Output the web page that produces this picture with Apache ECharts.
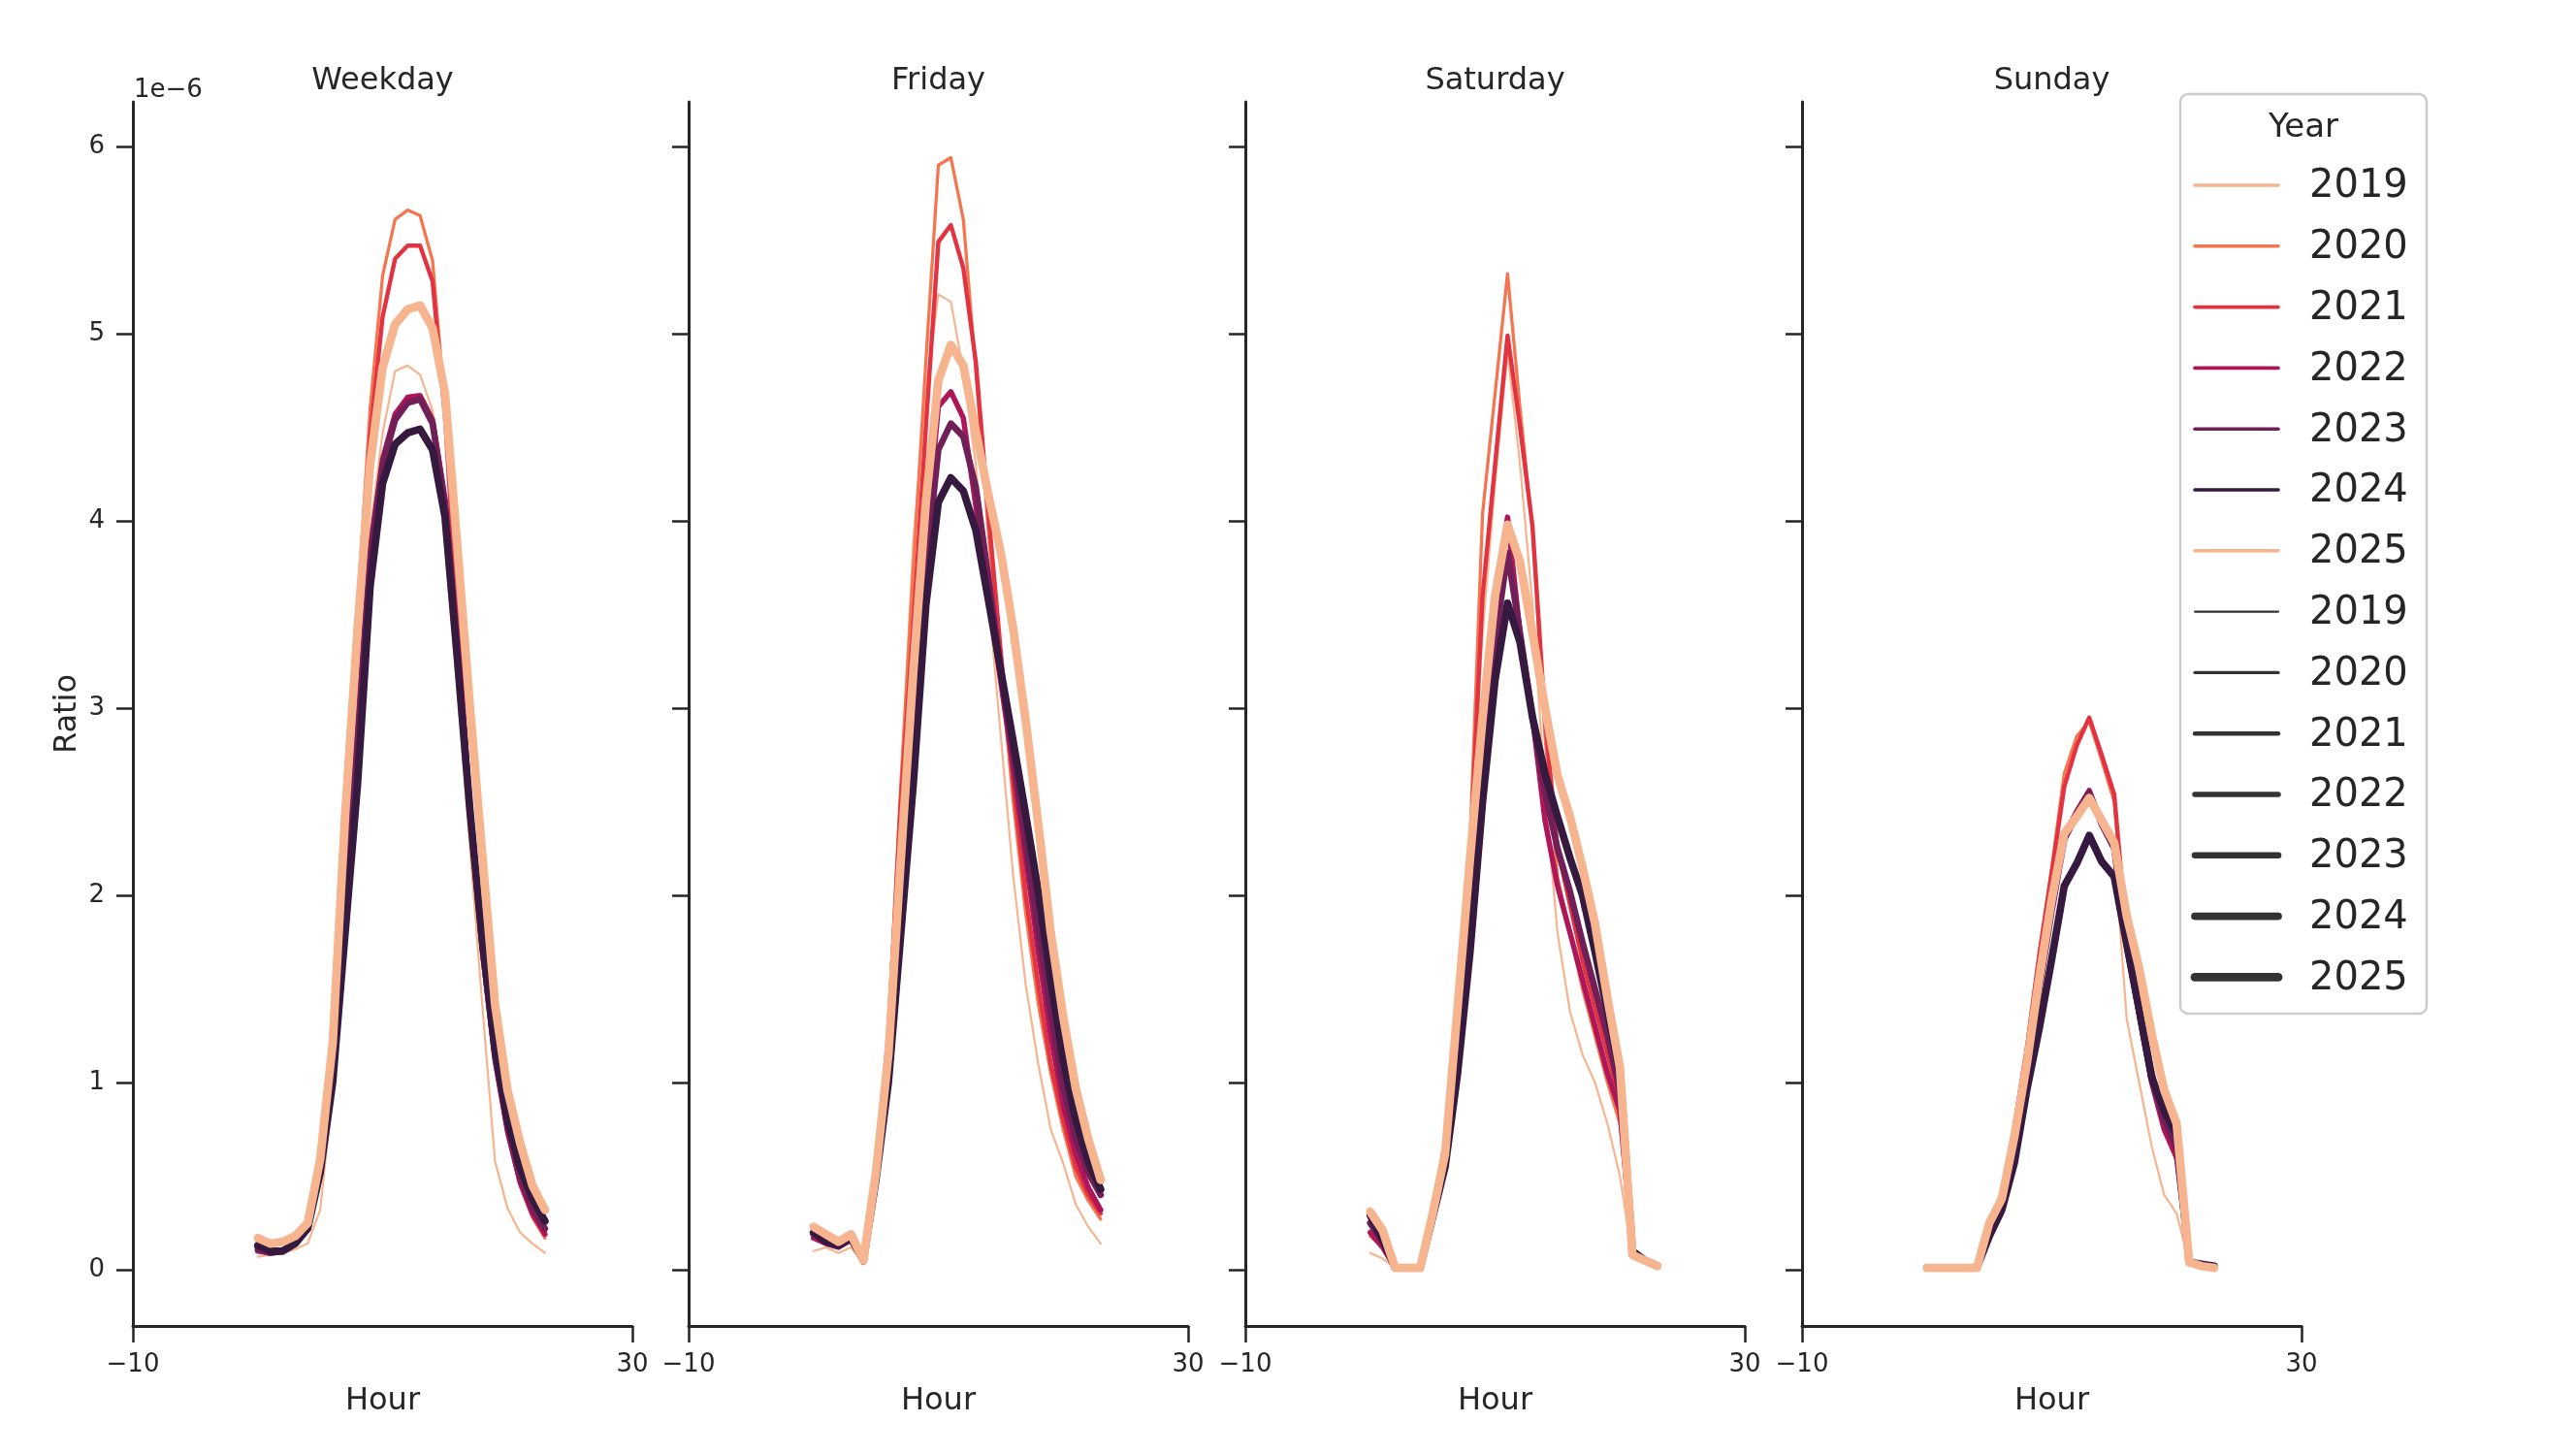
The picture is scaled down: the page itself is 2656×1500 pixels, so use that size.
<!DOCTYPE html>
<html>
<head>
<meta charset="utf-8">
<script src="https://cdn.jsdelivr.net/npm/echarts@6/dist/echarts.min.js"></script>
<style>
html,body{margin:0;padding:0;background:#ffffff;}
#chart{width:2656px;height:1500px;}
</style>
</head>
<body>
<div id="chart"></div>
<script>
// ---------------- data (ratio values, in units of 1e-6) ----------------
const SCALE = 1e-6;
const HOURS = [0,1,2,3,4,5,6,7,8,9,10,11,12,13,14,15,16,17,18,19,20,21,22,23];
const YEARS = ['2019','2020','2021','2022','2023','2024','2025'];
const PANELS = ['Weekday','Friday','Saturday','Sunday'];
const X_TICKS = [-10, 30];
const Y_TICKS = [0, 1, 2, 3, 4, 5, 6];

// rows: 2019 .. 2025, columns: hour 0 .. 23
const weekday = [
  [0.07,0.08,0.09,0.11,0.14,0.32,0.95,2.00,3.05,3.95,4.47,4.80,4.83,4.78,4.59,3.87,3.10,2.25,1.40,0.58,0.33,0.20,0.14,0.09],
  [0.11,0.10,0.11,0.15,0.24,0.55,1.20,2.40,3.55,4.60,5.31,5.61,5.66,5.63,5.39,4.60,3.50,2.50,1.70,1.10,0.72,0.45,0.28,0.17],
  [0.11,0.10,0.11,0.15,0.24,0.55,1.18,2.35,3.45,4.45,5.09,5.40,5.47,5.47,5.28,4.55,3.50,2.50,1.72,1.12,0.74,0.47,0.30,0.20],
  [0.10,0.09,0.10,0.14,0.23,0.52,1.05,2.00,2.90,3.85,4.33,4.57,4.66,4.67,4.54,4.10,3.30,2.45,1.70,1.12,0.74,0.47,0.30,0.19],
  [0.11,0.09,0.10,0.15,0.23,0.52,1.05,1.95,2.85,3.80,4.30,4.54,4.63,4.65,4.52,4.10,3.30,2.45,1.72,1.15,0.78,0.50,0.33,0.22],
  [0.13,0.10,0.10,0.14,0.22,0.52,1.00,1.80,2.60,3.65,4.20,4.41,4.47,4.49,4.38,4.02,3.25,2.45,1.75,1.18,0.80,0.55,0.38,0.26],
  [0.17,0.14,0.15,0.18,0.25,0.59,1.21,2.43,3.43,4.30,4.82,5.05,5.13,5.15,5.03,4.68,3.85,3.00,2.20,1.42,0.96,0.68,0.45,0.32]
];
const friday = [
  [0.10,0.12,0.09,0.12,0.04,0.45,1.20,2.60,3.90,4.70,5.21,5.17,4.80,4.30,3.60,2.85,2.10,1.52,1.10,0.75,0.57,0.35,0.23,0.14],
  [0.17,0.15,0.12,0.15,0.04,0.55,1.30,2.60,3.75,4.85,5.90,5.94,5.61,4.80,3.95,3.20,2.50,1.90,1.42,1.05,0.75,0.50,0.37,0.27],
  [0.18,0.15,0.13,0.16,0.04,0.52,1.25,2.50,3.45,4.50,5.49,5.58,5.35,4.85,4.05,3.30,2.60,2.00,1.52,1.10,0.80,0.55,0.40,0.30],
  [0.17,0.14,0.12,0.16,0.04,0.50,1.10,2.10,3.00,3.90,4.61,4.69,4.55,4.08,3.61,3.14,2.68,2.20,1.70,1.25,0.88,0.62,0.44,0.32],
  [0.19,0.15,0.13,0.17,0.05,0.50,1.08,2.05,2.90,3.75,4.38,4.52,4.45,4.18,3.70,3.20,2.75,2.28,1.82,1.38,0.98,0.70,0.52,0.40],
  [0.20,0.15,0.13,0.17,0.05,0.48,1.00,1.80,2.60,3.55,4.10,4.23,4.16,3.95,3.58,3.20,2.82,2.43,2.02,1.55,1.12,0.80,0.58,0.43],
  [0.23,0.19,0.15,0.19,0.05,0.52,1.15,2.20,3.20,4.10,4.75,4.94,4.83,4.48,4.14,3.83,3.42,2.93,2.38,1.80,1.35,0.97,0.70,0.48]
];
const saturday = [
  [0.09,0.06,0.01,0.01,0.01,0.28,0.60,1.35,2.30,3.40,4.20,4.90,4.30,3.55,2.55,1.80,1.38,1.15,1.00,0.78,0.50,0.07,0.04,0.02],
  [0.18,0.12,0.01,0.01,0.01,0.30,0.70,1.40,2.30,4.04,4.68,5.32,4.60,3.95,2.85,2.10,1.80,1.50,1.25,1.00,0.78,0.10,0.06,0.03],
  [0.20,0.13,0.01,0.01,0.01,0.30,0.68,1.35,2.20,3.60,4.30,4.99,4.50,3.97,2.95,2.25,1.95,1.65,1.40,1.15,0.90,0.10,0.06,0.03],
  [0.20,0.12,0.01,0.01,0.01,0.30,0.62,1.30,2.10,3.00,3.55,4.02,3.40,2.95,2.40,2.05,1.80,1.55,1.30,1.05,0.85,0.10,0.05,0.02],
  [0.25,0.15,0.01,0.01,0.01,0.29,0.60,1.20,1.95,2.80,3.35,3.83,3.40,2.95,2.55,2.25,2.02,1.75,1.50,1.25,0.95,0.10,0.05,0.02],
  [0.29,0.16,0.01,0.01,0.01,0.28,0.55,1.05,1.70,2.50,3.15,3.56,3.35,2.95,2.65,2.42,2.20,2.00,1.70,1.38,1.05,0.10,0.05,0.02],
  [0.31,0.21,0.01,0.01,0.01,0.30,0.62,1.40,2.20,2.95,3.60,3.98,3.78,3.40,3.00,2.64,2.42,2.15,1.85,1.45,1.08,0.08,0.05,0.02]
];
const sunday = [
  [0.01,0.01,0.01,0.01,0.01,0.22,0.36,0.70,1.10,1.55,2.00,2.35,2.45,2.50,2.40,2.25,1.34,1.00,0.66,0.40,0.30,0.04,0.03,0.02],
  [0.01,0.01,0.01,0.01,0.01,0.25,0.40,0.78,1.20,1.70,2.15,2.65,2.85,2.93,2.72,2.50,1.75,1.40,1.05,0.75,0.58,0.04,0.03,0.02],
  [0.01,0.01,0.01,0.01,0.01,0.25,0.40,0.76,1.18,1.68,2.12,2.58,2.80,2.95,2.75,2.54,1.78,1.42,1.08,0.78,0.60,0.04,0.03,0.02],
  [0.01,0.01,0.01,0.01,0.01,0.22,0.36,0.70,1.08,1.52,1.95,2.32,2.45,2.56,2.38,2.25,1.72,1.36,1.00,0.75,0.60,0.04,0.03,0.02],
  [0.01,0.01,0.01,0.01,0.01,0.22,0.35,0.68,1.05,1.50,1.92,2.30,2.43,2.55,2.38,2.25,1.74,1.38,1.02,0.80,0.65,0.04,0.03,0.02],
  [0.01,0.01,0.01,0.01,0.01,0.18,0.32,0.57,0.96,1.29,1.66,2.05,2.17,2.32,2.18,2.10,1.74,1.39,1.03,0.85,0.72,0.04,0.03,0.02],
  [0.01,0.01,0.01,0.01,0.01,0.25,0.38,0.71,1.10,1.56,1.98,2.33,2.42,2.52,2.40,2.28,1.89,1.61,1.26,0.96,0.78,0.04,0.02,0.01]
];
const PANEL_DATA = [weekday, friday, saturday, sunday];

// ---------------- styling ----------------
const COLORS = ['#f6b48f','#f37651','#e13342','#ad1759','#701f57','#35193e','#f6b48f'];
const WIDTHS = [2.2, 3.3, 4.4, 5.5, 6.6, 7.7, 8.8];
const INK = '#262626';
const FONT = 'DejaVu Sans';

const GRID_LEFTS = [137, 710, 1284, 1858];
const GRID_TOP = 105, GRID_W = 515, GRID_H = 1262;
const Y_MIN = -0.30, Y_MAX = 6.238;

const fmtMinus = v => String(v).replace('-', '\u2212');

const grids = [], xAxes = [], yAxes = [], series = [], graphics = [];

PANELS.forEach((name, p) => {
  grids.push({ left: GRID_LEFTS[p], top: GRID_TOP, width: GRID_W, height: GRID_H, containLabel: false });
  xAxes.push({
    type: 'value', gridIndex: p, min: -10, max: 30,
    name: 'Hour', nameLocation: 'middle', nameGap: 62,
    nameTextStyle: { fontFamily: FONT, fontSize: 32, color: INK },
    axisLine: { show: true, onZero: false, lineStyle: { color: INK, width: 3 } },
    axisTick: { show: true, length: 17, lineStyle: { color: INK, width: 2.5 }, customValues: X_TICKS },
    axisLabel: { show: true, margin: 27, fontFamily: FONT, fontSize: 26, color: INK,
                 customValues: X_TICKS, formatter: v => fmtMinus(v) },
    splitLine: { show: false }
  });
  const yTickVals = Y_TICKS.map(t => t * SCALE);
  yAxes.push({
    type: 'value', gridIndex: p, min: Y_MIN * SCALE, max: Y_MAX * SCALE,
    name: p === 0 ? 'Ratio' : '', nameLocation: 'middle', nameGap: 51, nameRotate: 90,
    nameTextStyle: { fontFamily: FONT, fontSize: 32, color: INK },
    axisLine: { show: true, onZero: false, lineStyle: { color: INK, width: 3 } },
    axisTick: { show: true, length: 17, lineStyle: { color: INK, width: 2.5 }, customValues: yTickVals },
    axisLabel: { show: p === 0, margin: 29, fontFamily: FONT, fontSize: 26, color: INK,
                 customValues: yTickVals, formatter: v => String(Math.round(v / SCALE)) },
    splitLine: { show: false }
  });
  // panel title
  graphics.push({
    type: 'text', x: GRID_LEFTS[p] + GRID_W / 2, y: 84, z: 50,
    style: { text: name, fontFamily: FONT, fontSize: 32, fill: INK, textAlign: 'center', textVerticalAlign: 'middle' }
  });
  PANEL_DATA[p].forEach((vals, k) => {
    series.push({
      type: 'line', name: YEARS[k], xAxisIndex: p, yAxisIndex: p,
      data: HOURS.map((h, i) => [h, vals[i] * SCALE]),
      symbol: 'none', showSymbol: false, smooth: false, animation: false,
      lineStyle: { color: COLORS[k], width: WIDTHS[k], cap: 'round', join: 'round' },
      z: 2 + k
    });
  });
});

// offset text of the y axis
graphics.push({
  type: 'text', x: 138, y: 93, z: 50,
  style: { text: '1e\u22126', fontFamily: FONT, fontSize: 26, fill: INK, textAlign: 'left', textVerticalAlign: 'middle' }
});

// legend (hue entries then size entries)
const LEG_X = 2248, LEG_Y = 97, LEG_W = 254, LEG_H = 948;
const legendChildren = [
  { type: 'rect', shape: { x: LEG_X, y: LEG_Y, width: LEG_W, height: LEG_H, r: 8 },
    style: { fill: 'rgba(255,255,255,0.85)', stroke: '#cccccc', lineWidth: 2.5 } },
  { type: 'text', x: 2375, y: 132,
    style: { text: 'Year', fontFamily: FONT, fontSize: 34, fill: INK, textAlign: 'center', textVerticalAlign: 'middle' } }
];
const legendRows = [];
YEARS.forEach((y, k) => legendRows.push({ label: y, color: COLORS[k], width: 3.6 }));
YEARS.forEach((y, k) => legendRows.push({ label: y, color: '#333333', width: WIDTHS[k] }));
legendRows.forEach((row, i) => {
  const yy = 191 + i * 62.8;
  legendChildren.push({ type: 'line', shape: { x1: 2263, y1: yy, x2: 2349, y2: yy },
    style: { stroke: row.color, lineWidth: row.width, lineCap: 'round' } });
  legendChildren.push({ type: 'text', x: 2381, y: yy + 2,
    style: { text: row.label, fontFamily: FONT, fontSize: 40, fill: INK, textAlign: 'left', textVerticalAlign: 'middle' } });
});
graphics.push({ type: 'group', z: 100, children: legendChildren });

const chart = echarts.init(document.getElementById('chart'), null, { renderer: 'canvas' });
chart.setOption({
  backgroundColor: '#ffffff',
  animation: false,
  textStyle: { fontFamily: FONT },
  grid: grids, xAxis: xAxes, yAxis: yAxes, series: series, graphic: graphics
});
</script>
</body>
</html>
